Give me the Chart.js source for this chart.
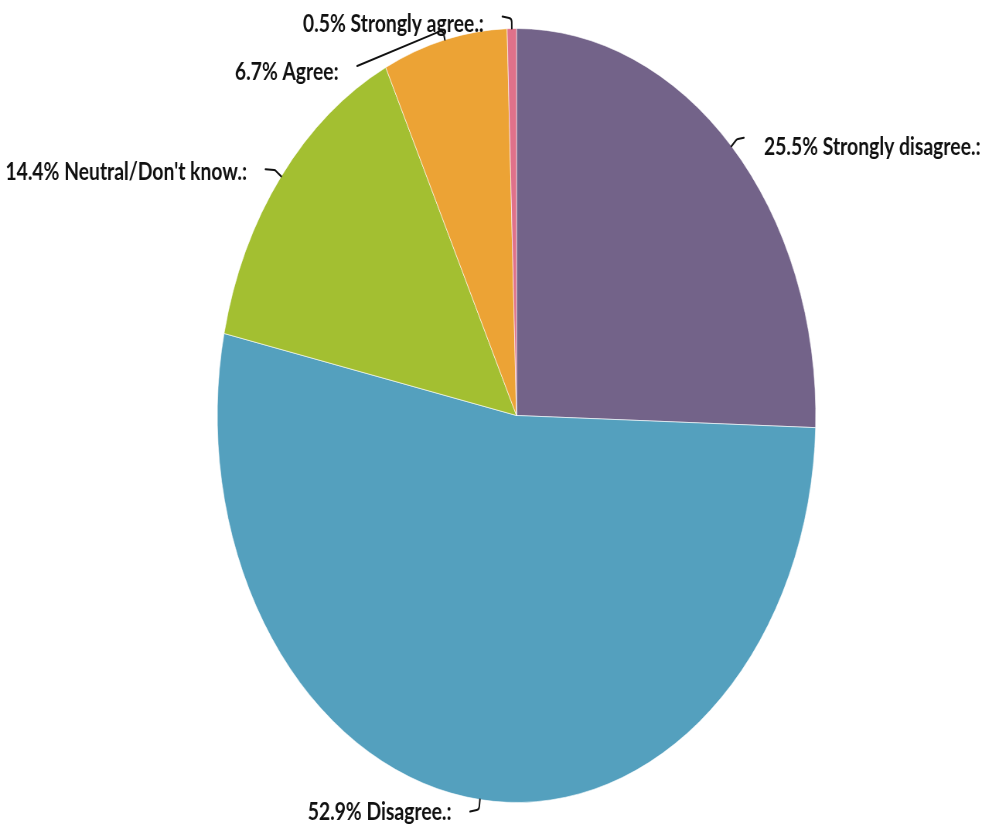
<!DOCTYPE html>
<html>
<head>
<meta charset="utf-8">
<script src="https://cdn.jsdelivr.net/npm/chart.js@4.4.0/dist/chart.umd.min.js"></script>
<style>
	html, body { margin: 0; padding: 0; background: #fff; overflow: hidden; }
	/* the pie is drawn round and then squeezed sideways into an oval */
	#wrap { width: 1277.5px; height: 835px; transform: scaleX(0.7726); transform-origin: 0 0; }
</style>
</head>
<body>
<div id="wrap"><canvas id="myChart"></canvas></div>
<script>
// answers, clockwise from 12 o'clock
const categories = ['Strongly disagree.:', 'Disagree.:', "Neutral/Don't know.:", 'Agree:', 'Strongly agree.:'];
const shares = [25.5, 52.9, 14.4, 6.7, 0.5];

const sliceColours = ['#736389', '#54a0be', '#a3bf31', '#eca335', '#e0718a'];

// leader tail (dx, dy from the elbow), which side the text sits on, text baseline shift
const leaderLayout = [
	{ dx: 9, dy: -1.5, side: 'right', base: 17 },
	{ dx: -11.5, dy: 2, side: 'left', base: 8 },
	{ dx: -12.5, dy: -1, side: 'left', base: 11 },
	{ dx: -111, dy: 36, side: 'left', base: 14 },
	{ dx: -12, dy: -2, side: 'left', base: 15 }
];

const pieLabels = {
	id: 'pieLabels',
	afterDatasetsDraw(chart) {
		var ctx = chart.ctx;
		var arcs = chart.getDatasetMeta(0).data;
		var total = shares.reduce((a, b) => a + b, 0);
		ctx.save();
		ctx.strokeStyle = '#111';
		ctx.lineWidth = 2;
		ctx.lineCap = 'round';
		ctx.lineJoin = 'round';
		ctx.fillStyle = '#111';
		ctx.font = 'bold 25px Lato';
		ctx.textBaseline = 'alphabetic';
		for (var i = 0; i < arcs.length; i++) {
			var arc = arcs[i];
			var lay = leaderLayout[i];
			var mid = (arc.startAngle + arc.endAngle) / 2;
			var cos = Math.cos(mid), sin = Math.sin(mid);
			var p0 = { x: arc.x + arc.outerRadius * cos, y: arc.y + arc.outerRadius * sin };
			var p1 = { x: arc.x + (arc.outerRadius + 10) * cos, y: arc.y + (arc.outerRadius + 10) * sin };
			var p2 = { x: p1.x + lay.dx, y: p1.y + lay.dy };

			ctx.beginPath();
			ctx.moveTo(p0.x, p0.y);
			ctx.arcTo(p1.x, p1.y, p2.x, p2.y, 4);
			ctx.lineTo(p2.x, p2.y);
			ctx.stroke();

			var text = (shares[i] / total * 100).toFixed(1) + '% ' + categories[i];
			if (lay.side == 'right') {
				ctx.textAlign = 'left';
				ctx.fillText(text, p2.x + 26, p2.y + lay.base);
			} else {
				ctx.textAlign = 'right';
				ctx.fillText(text, p2.x - 24, p2.y + lay.base);
			}
		}
		ctx.restore();
	}
};

var ctx = document.getElementById('myChart').getContext('2d');
var chart = new Chart(ctx, {
	type: 'pie',
	data: {
		labels: categories,
		datasets: [{
			data: shares,
			backgroundColor: sliceColours,
			borderColor: 'rgba(255,255,255,0.6)',
			borderWidth: 1
		}]
	},
	options: {
		responsive: true,
		maintainAspectRatio: false,
		animation: false,
		layout: {
			padding: { top: 28, bottom: 32, left: 280.5, right: 222 }
		},
		plugins: {
			legend: { display: false },
			tooltip: { enabled: false }
		}
	},
	plugins: [pieLabels]
});
</script>
</body>
</html>
